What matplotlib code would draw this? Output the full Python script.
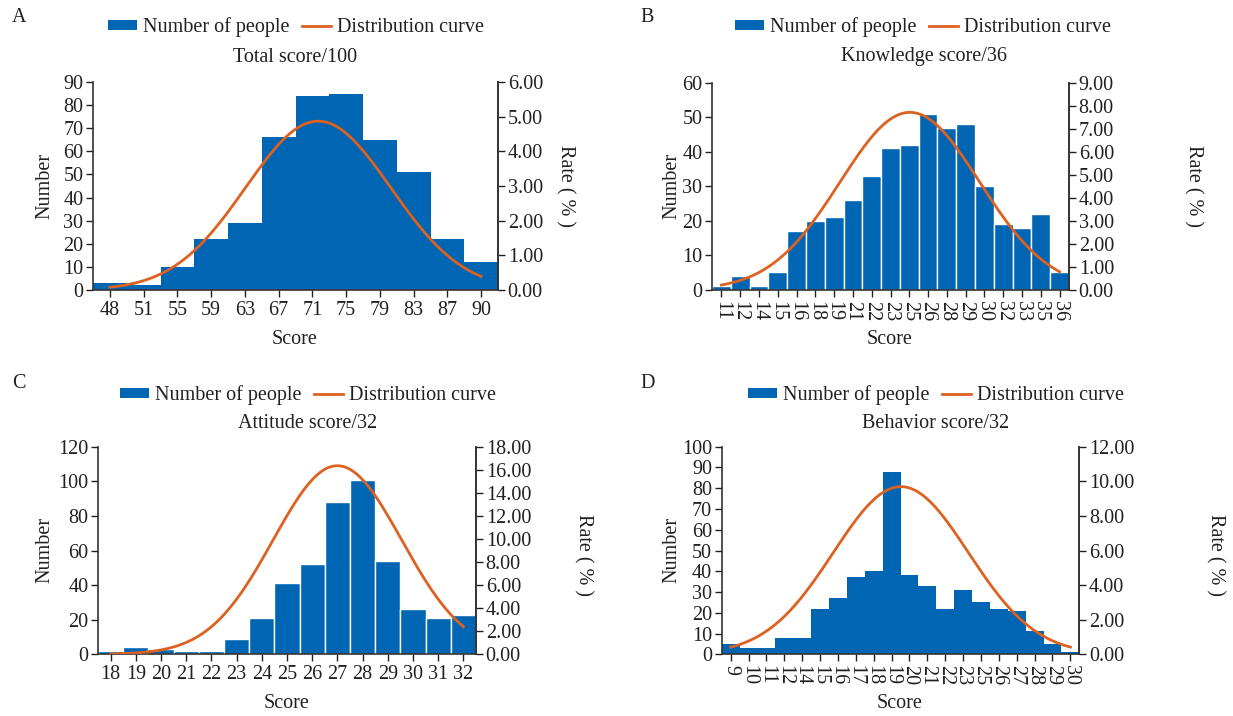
import numpy as np
import matplotlib
matplotlib.use('Agg')
import matplotlib.pyplot as plt
from matplotlib.patches import Patch
from matplotlib.lines import Line2D

# ---------------- data ----------------
a_scores = ['48', '51', '55', '59', '63', '67', '71', '75', '79', '83', '87', '90']
a_counts = [3, 2, 10, 22, 29, 66, 84, 85, 65, 51, 22, 12]
a_curve = {'mean': 6.17, 'sd': 2.15, 'peak': 4.87}   # normal curve, in category-index units, rate %

b_scores = ['11', '12', '14', '15', '16', '18', '19', '21', '22', '23',
            '25', '26', '28', '29', '30', '32', '33', '35', '36']
b_counts = [1, 4, 1, 5, 17, 20, 21, 26, 33, 41, 42, 51, 47, 48, 30, 19, 18, 22, 5]
b_curve = {'mean': 10.03, 'sd': 3.72, 'peak': 7.71}

c_scores = ['18', '19', '20', '21', '22', '23', '24', '25', '26', '27',
            '28', '29', '30', '31', '32']
c_counts = [2, 4, 3, 2, 2, 9, 21, 41, 52, 88, 101, 54, 26, 21, 23]
c_curve = {'mean': 9.0, 'sd': 2.55, 'peak': 16.35}

d_scores = ['9', '10', '11', '12', '14', '15', '16', '17', '18', '19',
            '20', '21', '22', '23', '25', '26', '27', '28', '29', '30']
d_counts = [5, 3, 3, 8, 8, 22, 27, 37, 40, 88, 38, 33, 22, 31, 25, 22, 21, 11, 5, 1]
d_curve = {'mean': 9.52, 'sd': 3.78, 'peak': 9.69}

titles = ['Total score/100', 'Knowledge score/36', 'Attitude score/32', 'Behavior score/32']
letters = ['A', 'B', 'C', 'D']

# ---------------- style ----------------
W, H = 1233, 716
plt.rcParams['font.family'] = ['Liberation Serif', 'DejaVu Sans']
TXT = '#231f20'
BLUE = '#0065b3'
ORANGE = '#dd6121'
FS = 14.5

fig = plt.figure(figsize=(W / 100, H / 100), dpi=100)


def fx(x):
    return x / W


def fy(y):
    return 1 - y / H


panels = [
    dict(scores=a_scores, counts=a_counts, curve=a_curve, box=(93, 82, 498, 290),
         ymax=90, ystep=10, rmax=6, rstep=1, rot=0, edge=False,
         leg=(296, 27), title=(295, 57), letter=(12, 18), num=(45, 186), rate=(565, 186),
         score=(295, 339)),
    dict(scores=b_scores, counts=b_counts, curve=b_curve, box=(712, 82.7, 1069, 289.7),
         ymax=60, ystep=10, rmax=9, rstep=1, rot=270, edge=True,
         leg=(923, 27), title=(924, 57), letter=(640, 18), num=(672, 186), rate=(1193, 186),
         score=(890, 339)),
    dict(scores=c_scores, counts=c_counts, curve=c_curve, box=(98, 446.7, 476, 654.3),
         ymax=120, ystep=20, rmax=18, rstep=2, rot=0, edge=True,
         leg=(308, 395), title=(308, 423), letter=(12, 383), num=(45, 550), rate=(583, 555),
         score=(287, 703)),
    dict(scores=d_scores, counts=d_counts, curve=d_curve, box=(721.7, 446.7, 1079.3, 654.3),
         ymax=100, ystep=10, rmax=12, rstep=2, rot=270, edge=False,
         leg=(936, 395), title=(936, 423), letter=(640, 383), num=(672, 550), rate=(1215, 555),
         score=(900, 703)),
]

for i, p in enumerate(panels):
    x0, y0, x1, y1 = p['box']
    ax = fig.add_axes([fx(x0), fy(y1), (x1 - x0) / W, (y1 - y0) / H])
    n = len(p['scores'])
    idx = np.arange(n)
    if p['edge']:
        ax.bar(idx, p['counts'], width=1.0, color=BLUE, edgecolor='white', linewidth=1.0, zorder=2)
    else:
        ax.bar(idx, p['counts'], width=1.0, color=BLUE, linewidth=0, zorder=2)
    ax.set_xlim(-0.5, n - 0.5)
    ax.set_ylim(0, p['ymax'])
    ax.set_yticks(np.arange(0, p['ymax'] + 0.1, p['ystep']))
    ax.set_xticks(idx)
    ax.set_xticklabels(p['scores'], rotation=p['rot'], fontsize=FS, color=TXT)
    ax.tick_params(axis='both', direction='out', length=5, width=1, colors=TXT, labelsize=FS, pad=2)
    ax.tick_params(axis='x', pad=3)
    ax.spines['top'].set_visible(False)
    for s in ['left', 'bottom', 'right']:
        ax.spines[s].set_color('#333333')
        ax.spines[s].set_linewidth(1.2)

    ax2 = ax.twinx()
    ax2.set_ylim(0, p['rmax'])
    rt = np.arange(0, p['rmax'] + 0.01, p['rstep'])
    ax2.set_yticks(rt)
    ax2.set_yticklabels(['%.2f' % v for v in rt])
    ax2.tick_params(axis='y', direction='out', length=5, width=1, colors=TXT, labelsize=FS, pad=2)
    for s in ['top', 'left', 'bottom']:
        ax2.spines[s].set_visible(False)
    ax2.spines['right'].set_color('#333333')
    ax2.spines['right'].set_linewidth(1.2)
    c = p['curve']
    xs = np.linspace(0, n - 1, 300)
    ys = c['peak'] * np.exp(-((xs - c['mean']) ** 2) / (2 * c['sd'] ** 2))
    ax2.plot(xs, ys, color=ORANGE, linewidth=2.0, zorder=3)

    # texts
    fig.text(fx(p['letter'][0]), fy(p['letter'][1]), letters[i], fontsize=FS, color=TXT,
             ha='left', va='center')
    fig.text(fx(p['title'][0]), fy(p['title'][1]), titles[i], fontsize=FS, color=TXT,
             ha='center', va='center')
    fig.text(fx(p['num'][0]), fy(p['num'][1]), 'Number', fontsize=FS, color=TXT,
             ha='center', va='center', rotation=90)
    fig.text(fx(p['rate'][0]), fy(p['rate'][1]), 'Rate ( % )', fontsize=FS, color=TXT,
             ha='center', va='center', rotation=270)
    fig.text(fx(p['score'][0]), fy(p['score'][1]), 'Score', fontsize=FS, color=TXT,
             ha='center', va='center')
    handles = [Patch(facecolor=BLUE, edgecolor='none'),
               Line2D([0], [0], color=ORANGE, linewidth=2)]
    fig.legend(handles, ['Number of people', 'Distribution curve'], loc='center',
               bbox_to_anchor=(fx(p['leg'][0]), fy(p['leg'][1])), ncol=2, frameon=False,
               fontsize=FS, handlelength=1.45, handleheight=0.4, handletextpad=0.3,
               columnspacing=0.6, labelcolor=TXT, borderpad=0, borderaxespad=0)

fig.savefig('out.png', dpi=100)
